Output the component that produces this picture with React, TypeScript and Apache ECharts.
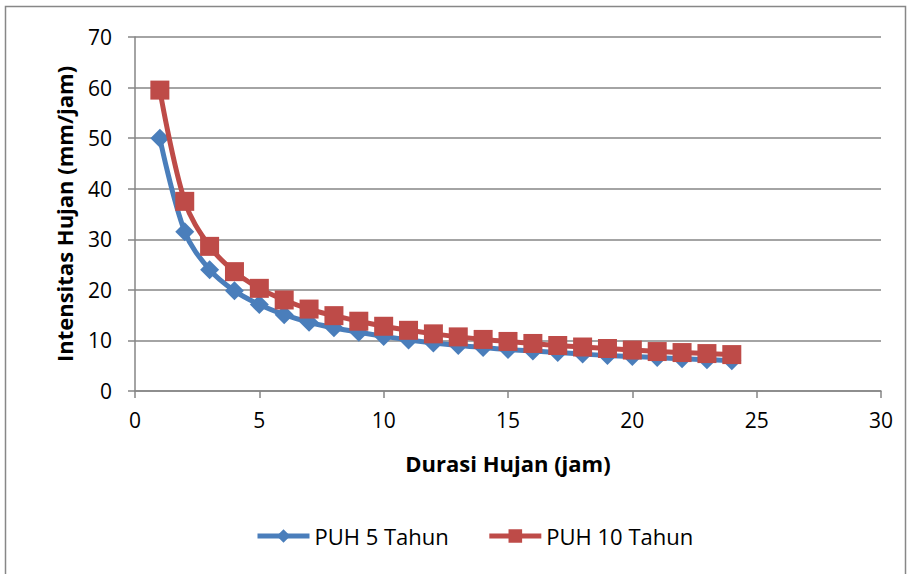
import React, { useEffect, useRef } from "react";
import * as echarts from "echarts";

const durations = [1, 2, 3, 4, 5, 6, 7, 8, 9, 10, 11, 12, 13, 14, 15, 16, 17, 18, 19, 20, 21, 22, 23, 24];
const puh5 = [50.0, 31.5, 24.0, 19.8, 17.1, 15.1, 13.6, 12.5, 11.6, 10.8, 10.1, 9.5, 9.0, 8.6, 8.2, 7.9, 7.6, 7.3, 7.0, 6.8, 6.6, 6.4, 6.2, 6.0];
const puh10 = [59.5, 37.5, 28.6, 23.6, 20.3, 18.0, 16.2, 14.9, 13.8, 12.8, 12.0, 11.3, 10.7, 10.2, 9.8, 9.4, 9.0, 8.7, 8.4, 8.1, 7.8, 7.6, 7.4, 7.2];
const seriesNames = ["PUH 5 Tahun", "PUH 10 Tahun"];
const xTitle = "Durasi Hujan (jam)";
const yTitle = "Intensitas Hujan (mm/jam)";

const FONT = "Open Sans";

export default function App() {
  const ref = useRef<HTMLDivElement>(null);
  useEffect(() => {
    if (!ref.current) return;
    const chart = echarts.init(ref.current, undefined, { renderer: "svg" });
    const axisLine = { show: true, lineStyle: { color: "#868686", width: 1.5 } };
    chart.setOption({
      animation: false,
      backgroundColor: "#ffffff",
      textStyle: { fontFamily: FONT },
      graphic: [
        {
          type: "rect",
          shape: { x: 5.5, y: 6.5, width: 900, height: 600 },
          style: { fill: "none", stroke: "#878787", lineWidth: 1.5 },
          silent: true,
        },
      ],
      grid: { left: 135, right: 30, top: 37, bottom: 183 },
      legend: {
        top: 520,
        left: 250,
        itemWidth: 52,
        itemHeight: 17,
        itemGap: 38,
        lineStyle: { width: 5 },
        textStyle: { fontFamily: FONT, fontSize: 22, color: "#000" },
        data: seriesNames,
      },
      xAxis: {
        type: "value",
        min: 0,
        max: 30,
        interval: 5,
        name: xTitle,
        nameLocation: "middle",
        nameGap: 61,
        nameTextStyle: { fontFamily: FONT, fontSize: 22, fontWeight: "bold", color: "#000" },
        axisLine,
        axisTick: { show: true, length: 7, lineStyle: { color: "#868686", width: 1.5 } },
        splitLine: { show: false },
        axisLabel: { fontFamily: FONT, fontSize: 21, color: "#000", margin: 18 },
      },
      yAxis: {
        type: "value",
        min: 0,
        max: 70,
        interval: 10,
        name: yTitle,
        nameLocation: "middle",
        nameGap: 60,
        nameTextStyle: { fontFamily: FONT, fontSize: 22, fontWeight: "bold", color: "#000" },
        axisLine,
        axisTick: { show: true, length: 7, lineStyle: { color: "#868686", width: 1.5 } },
        splitLine: { show: true, lineStyle: { color: "#868686", width: 1.5 } },
        axisLabel: { fontFamily: FONT, fontSize: 21, color: "#000", margin: 23 },
      },
      series: [
        {
          name: seriesNames[0],
          type: "line",
          smooth: 0.35,
          data: durations.map((d, i) => [d, puh5[i]]),
          symbol: "diamond",
          symbolSize: 19,
          lineStyle: { color: "#4A7EBB", width: 5 },
          itemStyle: { color: "#4A7EBB" },
          z: 2,
        },
        {
          name: seriesNames[1],
          type: "line",
          smooth: 0.35,
          data: durations.map((d, i) => [d, puh10[i]]),
          symbol: "rect",
          symbolSize: 19,
          lineStyle: { color: "#BE4B48", width: 5 },
          itemStyle: { color: "#BE4B48" },
          z: 3,
        },
      ],
    });
    return () => chart.dispose();
  }, []);
  return (
    <div
      ref={ref}
      style={{ position: "fixed", left: 0, top: 0, width: 911, height: 574 }}
    />
  );
}
